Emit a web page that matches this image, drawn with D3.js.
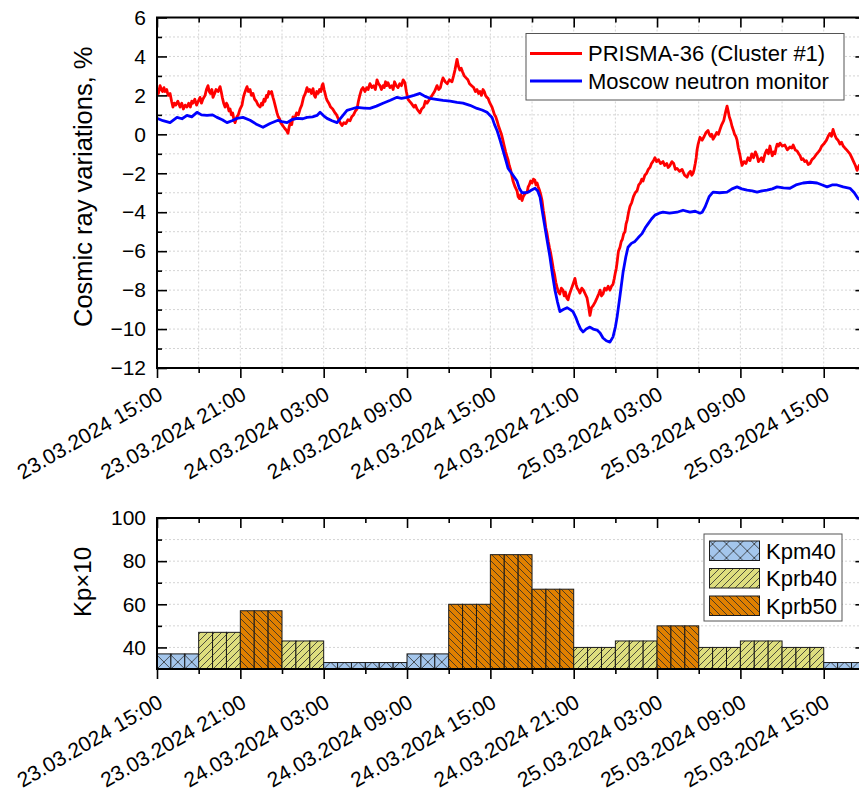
<!DOCTYPE html>
<html>
<head>
<meta charset="utf-8">
<script src="https://cdn.jsdelivr.net/npm/d3@7"></script>
<style>
  body { margin: 0; background: #fff; }
  svg { display: block; font-family: "Liberation Sans", Arial, sans-serif; }
</style>
</head>
<body>
<svg id="chart" width="859" height="796"></svg>
<script>
// Time origin: 23.03.2024 15:00 (UT); series times are hours from it
const startTime = Date.UTC(2024, 2, 23, 15, 0);
const spanHours = 51;

const seriesNames = ["PRISMA-36 (Cluster #1)", "Moscow neutron monitor"];

const prismaHours = [0.00,0.10,0.22,0.32,0.40,0.50,0.58,0.70,0.80,0.94,1.05,1.15,1.25,1.35,1.50,1.66,1.78,1.90,2.03,2.16,2.28,2.40,2.50,2.59,2.72,2.85,2.97,3.10,3.20,3.30,3.46,3.56,3.67,3.76,3.85,3.95,4.03,4.15,4.25,4.40,4.54,4.62,4.70,4.80,4.90,5.00,5.08,5.18,5.26,5.36,5.45,5.55,5.62,5.75,5.85,5.98,6.12,6.22,6.30,6.40,6.48,6.58,6.70,6.80,6.91,7.03,7.15,7.28,7.42,7.52,7.60,7.70,7.78,7.88,7.95,8.05,8.14,8.25,8.35,8.43,8.50,8.57,8.64,8.73,8.82,8.91,9.00,9.10,9.20,9.32,9.43,9.52,9.60,9.70,9.79,9.92,10.05,10.18,10.30,10.42,10.55,10.68,10.80,10.90,11.00,11.12,11.23,11.32,11.40,11.50,11.60,11.70,11.80,11.88,11.95,12.03,12.10,12.17,12.24,12.37,12.50,12.65,12.82,12.93,13.05,13.18,13.32,13.45,13.60,13.75,13.90,14.02,14.15,14.28,14.40,14.50,14.60,14.72,14.83,14.97,15.10,15.20,15.33,15.47,15.60,15.72,15.84,15.95,16.05,16.16,16.27,16.36,16.45,16.54,16.63,16.77,16.90,17.00,17.10,17.22,17.35,17.48,17.60,17.72,17.85,17.95,18.07,18.18,18.30,18.40,18.50,18.60,18.72,18.82,18.93,19.05,19.20,19.32,19.44,19.62,19.80,19.98,20.16,20.28,20.40,20.50,20.59,20.75,20.90,21.05,21.24,21.35,21.45,21.53,21.60,21.70,21.80,21.90,22.00,22.12,22.25,22.38,22.50,22.65,22.80,22.92,23.04,23.15,23.25,23.36,23.47,23.56,23.65,23.75,23.83,23.97,24.12,24.21,24.30,24.39,24.48,24.60,24.70,24.80,24.90,25.00,25.10,25.18,25.27,25.36,25.45,25.54,25.63,25.78,25.92,26.00,26.10,26.18,26.28,26.37,26.45,26.55,26.64,26.72,26.80,26.90,27.00,27.10,27.20,27.28,27.36,27.45,27.55,27.63,27.72,27.81,27.90,27.99,28.08,28.17,28.25,28.34,28.44,28.53,28.62,28.71,28.80,28.90,29.00,29.11,29.23,29.32,29.40,29.50,29.59,29.70,29.80,29.95,30.09,30.17,30.25,30.35,30.45,30.58,30.70,30.83,30.96,31.06,31.17,31.28,31.40,31.55,31.68,31.80,31.90,32.00,32.11,32.23,32.35,32.48,32.61,32.72,32.83,32.92,33.00,33.06,33.12,33.22,33.33,33.42,33.50,33.60,33.69,33.77,33.85,33.95,34.05,34.18,34.30,34.43,34.56,34.68,34.80,34.90,34.99,35.12,35.25,35.37,35.49,35.60,35.70,35.78,35.85,35.97,36.10,36.25,36.43,36.55,36.70,36.80,36.93,37.07,37.20,37.32,37.44,37.62,37.80,37.98,38.16,38.28,38.40,38.50,38.59,38.67,38.75,38.82,38.88,38.96,39.09,39.25,39.40,39.53,39.67,39.76,39.85,39.94,40.03,40.16,40.30,40.42,40.53,40.66,40.80,40.92,41.04,41.12,41.20,41.30,41.40,41.50,41.58,41.67,41.76,41.85,41.95,42.03,42.12,42.26,42.40,42.55,42.69,42.82,42.95,43.08,43.20,43.30,43.40,43.52,43.63,43.77,43.90,44.02,44.13,44.22,44.30,44.40,44.49,44.57,44.65,44.75,44.85,45.02,45.20,45.38,45.57,45.70,45.80,45.95,46.08,46.20,46.30,46.40,46.51,46.63,46.75,46.88,47.01,47.15,47.30,47.40,47.50,47.62,47.73,47.86,48.00,48.10,48.20,48.32,48.45,48.56,48.67,48.78,48.90,49.03,49.17,49.28,49.40,49.52,49.65,49.77,49.89,50.02,50.15,50.28,50.40,50.55,50.70,50.85,51.00];
const prismaValues = [2.3,2.1,2.5,2.3,2.2,2.4,2.2,2.3,2.0,2.1,1.7,1.4,1.6,1.5,1.7,1.4,1.6,1.3,1.5,1.4,1.6,1.4,1.7,1.6,1.8,1.5,1.7,1.9,1.6,1.8,2.0,2.3,2.5,2.2,2.1,2.3,1.9,2.1,2.3,2.2,2.45,2.2,1.9,1.6,1.4,1.6,1.5,1.2,1.3,1.0,1.1,0.7,0.6,0.9,1.0,1.3,1.5,1.9,2.1,2.3,2.45,2.2,2.3,2.0,2.1,1.8,1.7,1.5,1.4,1.6,1.5,1.8,1.7,2.0,1.9,2.2,2.1,2.2,1.9,1.7,1.5,1.3,1.1,0.9,0.8,0.6,0.5,0.4,0.3,0.2,0.05,0.4,0.6,0.5,0.9,0.8,1.1,1.0,1.3,1.5,1.9,2.1,2.4,2.2,2.3,2.1,2.35,2.0,1.9,2.2,2.1,2.3,2.2,2.5,2.6,2.3,2.1,1.9,1.75,1.6,1.4,1.3,1.1,1.0,0.8,0.6,0.45,0.6,0.55,0.75,0.7,0.9,1.0,1.2,1.3,1.7,2.0,2.3,2.4,2.2,2.4,2.3,2.6,2.4,2.5,2.3,2.8,2.6,2.5,2.3,2.5,2.4,2.7,2.5,2.65,2.4,2.5,2.3,2.7,2.5,2.4,2.6,2.5,2.8,2.65,2.2,1.8,1.7,1.6,1.5,1.4,1.5,1.3,1.2,1.1,1.3,1.4,1.7,1.6,1.8,2.0,2.2,2.5,2.3,2.4,2.7,2.9,2.7,2.6,2.8,2.7,3.0,3.3,3.6,3.85,3.5,3.3,3.4,3.2,3.0,2.9,2.8,2.6,2.5,2.4,2.2,2.3,2.1,2.2,2.0,2.3,2.2,2.0,1.9,1.85,1.6,1.4,1.2,1.0,0.9,0.7,0.4,0.2,0.0,-0.3,-0.6,-0.9,-1.1,-1.3,-1.6,-1.8,-2.1,-2.4,-2.7,-2.9,-3.2,-3.3,-3.1,-3.4,-3.2,-3.1,-3.0,-3.0,-2.7,-2.6,-2.4,-2.5,-2.3,-2.35,-2.6,-2.5,-2.7,-2.9,-3.1,-3.4,-3.9,-4.3,-4.8,-5.1,-5.5,-5.8,-6.1,-6.5,-6.9,-7.2,-7.6,-7.85,-8.1,-8.2,-7.9,-8.0,-8.3,-8.1,-8.4,-8.5,-8.2,-8.0,-7.7,-7.4,-7.7,-7.9,-8.0,-8.15,-7.9,-8.0,-8.2,-8.4,-8.8,-9.3,-8.9,-8.8,-8.6,-8.4,-8.2,-8.0,-8.3,-8.2,-7.9,-8.0,-7.8,-8.0,-7.8,-7.7,-7.4,-7.1,-6.9,-6.6,-6.0,-5.8,-5.5,-5.4,-5.1,-5.0,-4.6,-4.4,-4.0,-3.7,-3.5,-3.2,-3.0,-2.9,-2.6,-2.5,-2.3,-2.4,-2.1,-2.0,-1.8,-1.7,-1.5,-1.4,-1.3,-1.2,-1.4,-1.3,-1.5,-1.4,-1.6,-1.5,-1.7,-1.6,-1.4,-1.5,-1.8,-1.75,-1.9,-1.8,-2.1,-2.2,-2.0,-1.9,-2.1,-2.0,-1.8,-1.5,-1.2,-0.8,-0.5,-0.15,-0.3,-0.1,0.1,0.2,0.0,-0.1,0.0,-0.25,-0.1,0.1,0.0,0.25,0.5,0.7,1.1,1.45,1.2,0.9,0.7,0.4,0.2,0.0,-0.1,-0.3,-0.7,-1.0,-1.3,-1.6,-1.4,-1.5,-1.2,-1.35,-1.0,-1.2,-0.9,-1.1,-1.4,-1.3,-1.2,-1.4,-1.0,-0.8,-1.0,-0.6,-0.9,-1.1,-0.9,-1.0,-0.7,-0.5,-0.6,-0.45,-0.6,-0.55,-0.8,-0.65,-0.7,-0.55,-0.8,-0.85,-1.0,-1.1,-1.3,-1.25,-1.4,-1.35,-1.55,-1.5,-1.3,-1.2,-1.1,-1.0,-0.9,-0.8,-0.6,-0.5,-0.4,-0.3,-0.1,0.05,-0.1,0.25,0.0,-0.2,-0.3,-0.5,-0.4,-0.6,-0.7,-0.8,-0.9,-1.0,-1.2,-1.4,-1.6,-1.85,-1.6,-1.7,-1.9,-2.0];

const moscowHours = [0.00,0.43,0.94,1.44,1.80,2.16,2.50,2.88,3.20,3.60,4.00,4.32,4.70,5.04,5.40,5.76,6.19,6.70,7.20,7.63,8.14,8.71,9.00,9.36,9.70,10.08,10.50,10.80,11.20,11.52,11.74,12.00,12.24,12.60,12.96,13.30,13.68,14.00,14.40,14.90,15.33,15.80,16.27,16.80,17.28,17.60,18.00,18.50,18.93,19.30,19.65,20.10,20.59,21.10,21.60,22.03,22.53,23.04,23.40,23.76,24.12,24.30,24.48,24.70,24.91,25.10,25.27,25.63,25.92,26.10,26.28,26.50,26.71,27.00,27.22,27.40,27.58,27.75,27.93,28.10,28.29,28.47,28.65,28.83,29.01,29.25,29.52,29.75,29.95,30.15,30.31,30.50,30.67,30.90,31.17,31.40,31.68,31.90,32.11,32.35,32.61,32.83,33.00,33.12,33.33,33.55,33.75,33.91,34.15,34.41,34.65,34.92,35.15,35.35,35.60,35.85,36.15,36.43,36.90,37.44,37.87,38.37,38.75,39.09,39.25,39.45,39.75,40.03,40.50,41.04,41.40,41.76,42.10,42.48,42.85,43.20,43.55,43.92,44.30,44.64,45.10,45.57,46.00,46.51,47.01,47.52,47.90,48.24,48.60,48.96,49.40,49.89,50.20,50.47,51.00];
const moscowValues = [0.82,0.7,0.6,0.87,0.8,0.97,0.9,1.13,1.0,0.97,1.0,0.87,0.75,0.6,0.7,0.82,0.87,0.72,0.5,0.36,0.56,0.72,0.65,0.6,0.75,0.82,0.8,0.87,0.9,0.97,1.13,0.95,0.82,0.7,0.6,0.9,1.23,1.3,1.38,1.35,1.33,1.45,1.6,1.75,1.9,1.85,1.9,2.0,2.1,1.95,1.85,1.8,1.74,1.7,1.64,1.6,1.49,1.33,1.25,1.13,0.87,0.5,0.2,-0.3,-0.82,-1.3,-1.74,-2.1,-2.4,-2.8,-3.0,-3.0,-2.97,-2.85,-2.77,-2.9,-3.23,-4.0,-4.77,-5.5,-6.3,-7.2,-8.0,-8.6,-9.1,-9.0,-8.9,-9.0,-9.1,-9.4,-9.7,-10.0,-10.15,-10.0,-9.9,-10.0,-10.05,-10.2,-10.46,-10.6,-10.67,-10.4,-9.9,-9.4,-8.3,-7.1,-6.3,-5.8,-5.6,-5.5,-5.3,-5.1,-4.8,-4.6,-4.35,-4.15,-4.05,-4.0,-4.05,-4.0,-3.9,-4.0,-3.95,-4.05,-4.0,-3.74,-3.2,-2.97,-3.0,-2.97,-2.8,-2.7,-2.8,-2.87,-2.9,-2.97,-2.9,-2.87,-2.8,-2.7,-2.75,-2.77,-2.6,-2.5,-2.46,-2.5,-2.6,-2.7,-2.6,-2.6,-2.7,-2.77,-3.0,-3.3,-3.5];

// Kp index (x10) in 3-hour intervals and its classification
const kpBinStartHours = [0,3,6,9,12,15,18,21,24,27,30,33,36,39,42,45,48];
const kpValues = [37,47,57,43,33,33,37,60,83,67,40,43,50,40,43,40,33];
const kpClasses = ["Kpm40","Kprb40","Kprb50","Kprb40","Kpm40","Kpm40","Kpm40","Kprb50","Kprb50","Kprb50","Kprb40","Kprb40","Kprb50","Kprb40","Kprb40","Kprb40","Kpm40"];
const classNames = ["Kpm40","Kprb40","Kprb50"];

const xTickHours = [0,6,12,18,24,30,36,42,48];
const xTickLabels = ["23.03.2024 15:00","23.03.2024 21:00","24.03.2024 03:00","24.03.2024 09:00","24.03.2024 15:00","24.03.2024 21:00","25.03.2024 03:00","25.03.2024 09:00","25.03.2024 15:00"];
const yTicksTop = [-12,-10,-8,-6,-4,-2,0,2,4,6];
const yTicksBottom = [40,60,80,100];

// ---------------------------------------------------------------------------
const svg = d3.select("#chart");
const toDate = h => new Date(startTime + h * 3600e3);

const plotLeft = 157, plotRight = 865.4;
const top1 = 17.5, bot1 = 368;
const top2 = 518, bot2 = 669;

const x = d3.scaleUtc().domain([toDate(0), toDate(spanHours)]).range([plotLeft, plotRight]);
const y1 = d3.scaleLinear().domain([-12, 6]).range([bot1, top1]);
const y2 = d3.scaleLinear().domain([30, 100]).range([bot2, top2]);

const majorX = xTickHours.map(toDate);
const minorX = d3.range(3, spanHours + 1, 6).map(toDate);
const gridX = d3.range(3, spanHours, 3).map(toDate);
const labelOf = new Map(xTickHours.map((h, i) => [+toDate(h), xTickLabels[i]]));

const colors = { Kpm40: "#a4c6ec", Kprb40: "#dede7e", Kprb50: "#e08000" };
const lineColors = ["#ff0000", "#0000ff"];

// hatch patterns for the Kp classes
const defs = svg.append("defs");
function hatch(id, fill, size, d, ox, oy) {
  const p = defs.append("pattern").attr("id", id)
    .attr("patternUnits", "userSpaceOnUse")
    .attr("width", size).attr("height", size)
    .attr("x", ox).attr("y", oy);
  p.append("rect").attr("width", size).attr("height", size).attr("fill", fill);
  p.append("path").attr("d", d).attr("stroke", "#2a2a2a").attr("stroke-width", 0.8).attr("fill", "none");
}
const hp = x(toDate(1)) - x(toDate(0));
hatch("pat-Kpm40", colors.Kpm40, hp, `M0,0L${hp},${hp}M0,${hp}L${hp},0`, plotLeft, bot2);
hatch("pat-Kprb40", colors.Kprb40, 7, "M-1,1L1,-1M0,7L7,0M6,8L8,6", 0, 0);
hatch("pat-Kprb50", colors.Kprb50, 7, "M-1,6L1,8M0,0L7,7M6,-1L8,1", 0, 0);

defs.append("clipPath").attr("id", "clip1").append("rect")
  .attr("x", plotLeft).attr("y", top1).attr("width", plotRight - plotLeft).attr("height", bot1 - top1);

// ---------------- upper panel ----------------
const g1 = svg.append("g");
const gridStyle = s => s.attr("stroke", "#d4d4d4").attr("stroke-width", 1).attr("stroke-dasharray", "2,2");

g1.append("g").selectAll("line").data(d3.range(-11, 6)).join("line")
  .attr("x1", plotLeft).attr("x2", plotRight).attr("y1", d => y1(d)).attr("y2", d => y1(d)).call(gridStyle);
g1.append("g").selectAll("line").data(gridX).join("line")
  .attr("y1", top1).attr("y2", bot1).attr("x1", d => x(d)).attr("x2", d => x(d)).call(gridStyle);

const series = [
  { name: seriesNames[0], points: d3.zip(prismaHours, prismaValues), color: lineColors[0] },
  { name: seriesNames[1], points: d3.zip(moscowHours, moscowValues), color: lineColors[1] }
];
const line = d3.line().x(d => x(toDate(d[0]))).y(d => y1(d[1]));
g1.append("g").attr("clip-path", "url(#clip1)").selectAll("path").data(series).join("path")
  .attr("d", s => line(s.points))
  .attr("fill", "none").attr("stroke", s => s.color).attr("stroke-width", 2.8)
  .attr("stroke-linejoin", "round");

// ---------------- lower panel ----------------
const g2 = svg.append("g");
g2.append("g").selectAll("line").data([40, 50, 60, 70, 80, 90]).join("line")
  .attr("x1", plotLeft).attr("x2", plotRight).attr("y1", d => y2(d)).attr("y2", d => y2(d)).call(gridStyle);

const columns = [];
kpBinStartHours.forEach((h, i) => {
  for (let k = 0; k < 3; k++) columns.push({ h: h + k, v: kpValues[i], c: kpClasses[i] });
});
g2.append("g").selectAll("rect").data(columns).join("rect")
  .attr("x", d => x(toDate(d.h)))
  .attr("width", d => x(toDate(d.h + 1)) - x(toDate(d.h)))
  .attr("y", d => y2(d.v))
  .attr("height", d => y2(30) - y2(d.v))
  .attr("fill", d => `url(#pat-${d.c})`)
  .attr("stroke", "#1a1a1a").attr("stroke-width", 1);

// ---------------- axes ----------------
function styleAxis(g) {
  g.select(".domain").remove();
  g.selectAll(".tick line").attr("stroke", "#000").attr("stroke-width", 1.6);
  g.selectAll(".tick text").attr("fill", "#000").attr("font-size", 21)
    .attr("font-family", "'Liberation Sans', Arial, sans-serif");
}
function frame(yScale, top, bottom, majorY, minorY) {
  const g = svg.append("g");
  g.append("g").attr("transform", `translate(${plotLeft},0)`)
    .call(d3.axisLeft(yScale).tickValues(majorY).tickSizeInner(-10).tickSizeOuter(0).tickPadding(11)).call(styleAxis);
  g.append("g").attr("transform", `translate(${plotLeft},0)`)
    .call(d3.axisLeft(yScale).tickValues(minorY).tickSizeInner(-5).tickSizeOuter(0).tickFormat("")).call(styleAxis);
  g.append("g").attr("transform", `translate(${plotRight},0)`)
    .call(d3.axisRight(yScale).tickValues(majorY).tickSizeInner(-10).tickSizeOuter(0).tickFormat("")).call(styleAxis);
  g.append("g").attr("transform", `translate(${plotRight},0)`)
    .call(d3.axisRight(yScale).tickValues(minorY).tickSizeInner(-5).tickSizeOuter(0).tickFormat("")).call(styleAxis);
  g.append("g").attr("transform", `translate(0,${bottom})`)
    .call(d3.axisBottom(x).tickValues(majorX).tickSizeInner(10).tickSizeOuter(0).tickFormat("")).call(styleAxis);
  g.append("g").attr("transform", `translate(0,${bottom})`)
    .call(d3.axisBottom(x).tickValues(minorX).tickSizeInner(5).tickSizeOuter(0).tickFormat("")).call(styleAxis);
  g.append("g").attr("transform", `translate(0,${top})`)
    .call(d3.axisTop(x).tickValues(majorX).tickSizeInner(-10).tickSizeOuter(0).tickFormat("")).call(styleAxis);
  g.append("g").attr("transform", `translate(0,${top})`)
    .call(d3.axisTop(x).tickValues(minorX).tickSizeInner(-5).tickSizeOuter(0).tickFormat("")).call(styleAxis);
  g.append("rect").attr("x", plotLeft).attr("y", top).attr("width", plotRight - plotLeft).attr("height", bottom - top)
    .attr("fill", "none").attr("stroke", "#000").attr("stroke-width", 2);
  return g;
}
frame(y1, top1, bot1, yTicksTop, [-11,-9,-7,-5,-3,-1,1,3,5]);
frame(y2, top2, bot2, yTicksBottom, [50, 70, 90]);

// rotated date labels under both panels
function dateLabels(bottom, dy) {
  svg.append("g").selectAll("text").data(majorX).join("text")
    .attr("transform", d => `translate(${x(d) + 3.5},${bottom + dy}) rotate(-30)`)
    .attr("text-anchor", "end").attr("dy", "0.35em")
    .attr("font-size", 21).attr("fill", "#000")
    .text(d => labelOf.get(+d));
}
dateLabels(bot1, 24);
dateLabels(bot2, 31);

// axis titles
svg.append("text").attr("transform", `translate(92,${(top1 + bot1) / 2 - 6}) rotate(-90)`)
  .attr("text-anchor", "middle").attr("font-size", 25.5).attr("fill", "#000")
  .text("Cosmic ray variations, %");
svg.append("text").attr("transform", "translate(91,582) rotate(-90)")
  .attr("text-anchor", "middle").attr("font-size", 24).attr("fill", "#000")
  .text("Kp\u00d710");

// ---------------- legends ----------------
const leg1 = svg.append("g");
leg1.append("rect").attr("x", 526).attr("y", 33.5).attr("width", 318).attr("height", 66.5)
  .attr("fill", "#fff").attr("stroke", "#555").attr("stroke-width", 1);
series.forEach((s, i) => {
  const yy = 53.5 + i * 27.5;
  leg1.append("line").attr("x1", 530).attr("x2", 582).attr("y1", yy).attr("y2", yy)
    .attr("stroke", s.color).attr("stroke-width", 2.8);
  leg1.append("text").attr("x", 588).attr("y", yy).attr("dy", "0.35em")
    .attr("font-size", 22).attr("fill", "#000").text(s.name);
});

const leg2 = svg.append("g");
leg2.append("rect").attr("x", 704).attr("y", 534).attr("width", 138).attr("height", 87)
  .attr("fill", "#fff").attr("stroke", "#555").attr("stroke-width", 1);
classNames.forEach((c, i) => {
  const yy = 541 + i * 27.5;
  leg2.append("rect").attr("x", 709.5).attr("y", yy).attr("width", 50).attr("height", 19.5)
    .attr("fill", `url(#pat-${c})`).attr("stroke", "#1a1a1a").attr("stroke-width", 1);
  leg2.append("text").attr("x", 766).attr("y", yy + 10).attr("dy", "0.35em")
    .attr("font-size", 22).attr("fill", "#000").text(c);
});
</script>
</body>
</html>
